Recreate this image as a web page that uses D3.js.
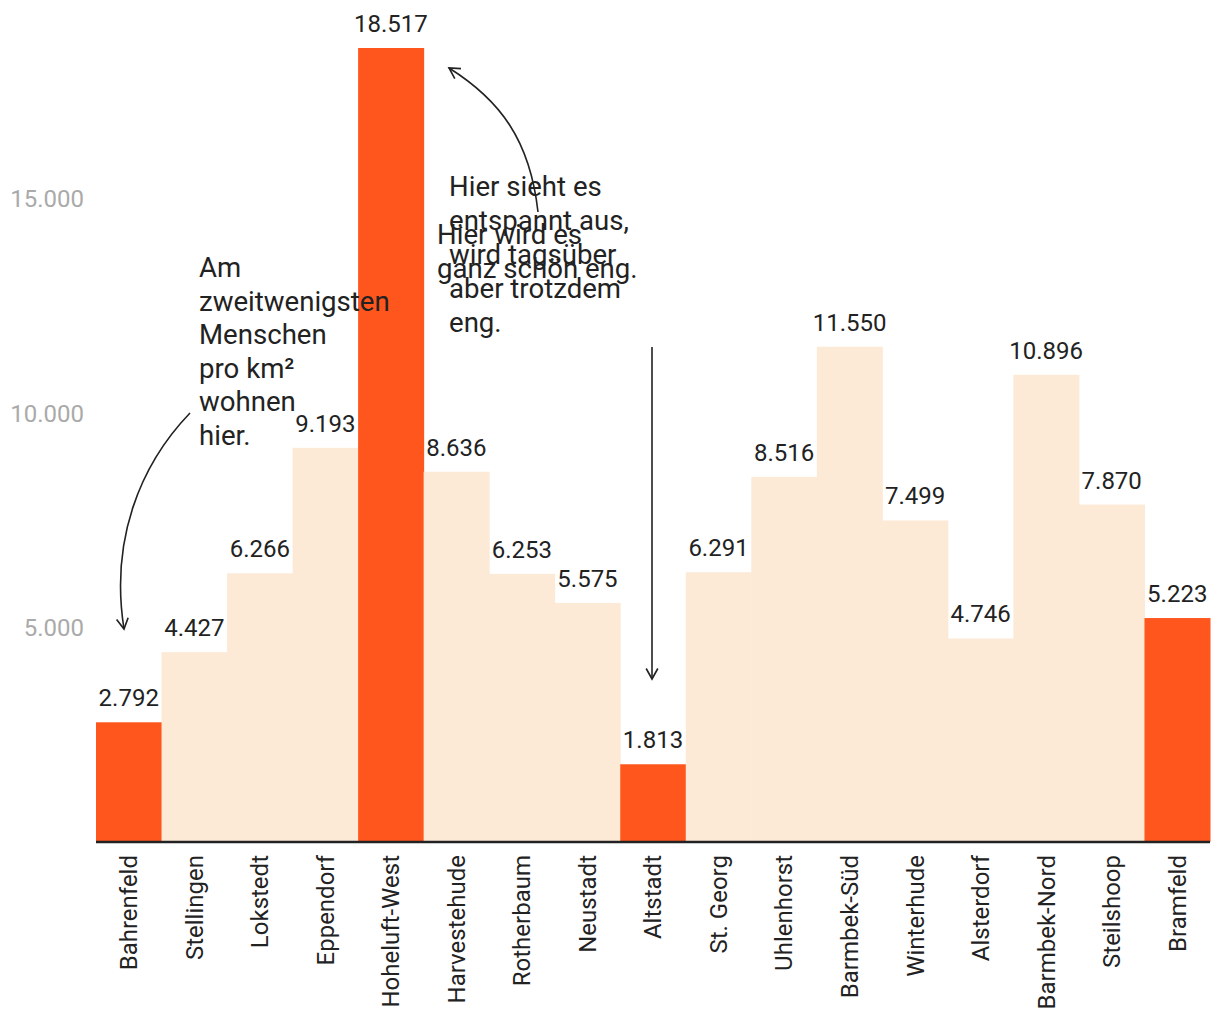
<!DOCTYPE html>
<html>
<head>
<meta charset="utf-8">
<script src="https://cdn.jsdelivr.net/npm/d3@7"></script>
<style>
  body { margin: 0; background: #fff; }
  svg { font-family: Roboto, "Noto Sans", sans-serif; }
</style>
</head>
<body>
<svg id="chart" width="1220" height="1020"></svg>
<script>
// Einwohner pro km² nach Stadtteil
const districts = ["Bahrenfeld", "Stellingen", "Lokstedt", "Eppendorf", "Hoheluft-West", "Harvestehude",
  "Rotherbaum", "Neustadt", "Altstadt", "St. Georg", "Uhlenhorst", "Barmbek-Süd", "Winterhude",
  "Alsterdorf", "Barmbek-Nord", "Steilshoop", "Bramfeld"];
const density = [2792, 4427, 6266, 9193, 18517, 8636, 6253, 5575, 1813, 6291, 8516, 11550, 7499,
  4746, 10896, 7870, 5223];
const highlighted = ["Bahrenfeld", "Hoheluft-West", "Altstadt", "Bramfeld"];
const yTicks = [5000, 10000, 15000];

const svg = d3.select("#chart");
const margin = { top: 48, right: 10, bottom: 178, left: 96 };
const width = 1220, height = 1020;

const x = d3.scaleBand()
  .domain(districts)
  .range([margin.left, width - margin.right])
  .padding(0);

const y = d3.scaleLinear()
  .domain([0, 18517])
  .range([height - margin.bottom, margin.top]);

const fmt = d3.formatLocale({ decimal: ",", thousands: ".", grouping: [3], currency: ["", "€"] }).format(",d");

const data = districts.map((d, i) => ({ name: d, value: density[i] }));

// y-Achse (nur Beschriftung)
svg.append("g")
  .selectAll("text")
  .data(yTicks)
  .enter().append("text")
  .attr("x", 84)
  .attr("y", d => y(d))
  .attr("dy", "0.35em")
  .attr("text-anchor", "end")
  .attr("fill", "#aaa")
  .style("font-size", "24px")
  .text(d => fmt(d));

// Balken
svg.append("g")
  .selectAll("rect")
  .data(data)
  .enter().append("rect")
  .attr("x", d => x(d.name))
  .attr("y", d => y(d.value))
  .attr("width", x.bandwidth() + 0.5)
  .attr("height", d => y(0) - y(d.value))
  .attr("fill", d => highlighted.includes(d.name) ? "#ff561e" : "#fcead7");

// Werte
svg.append("g")
  .selectAll("text")
  .data(data)
  .enter().append("text")
  .attr("x", d => x(d.name) + x.bandwidth() / 2)
  .attr("y", d => y(d.value) - 16)
  .attr("text-anchor", "middle")
  .attr("fill", "#222")
  .style("font-size", "24px")
  .text(d => fmt(d.value));

// x-Achse
const xAxis = svg.append("g")
  .attr("transform", `translate(0,${y(0)})`)
  .call(d3.axisBottom(x).tickSize(0).tickPadding(0));
xAxis.select(".domain").attr("stroke", "#222").attr("stroke-width", 2.5).attr("d", `M${margin.left},0H${width - margin.right}`);
xAxis.selectAll(".tick text")
  .attr("transform", "rotate(-90)")
  .attr("text-anchor", "end")
  .attr("x", -13)
  .attr("y", 0)
  .attr("dy", "0.35em")
  .attr("fill", "#222")
  .style("font-size", "24px")
  .style("font-family", "Roboto, sans-serif");

// Annotationen
svg.append("defs").append("marker")
  .attr("id", "arrow")
  .attr("viewBox", "0 0 12 12")
  .attr("refX", 10).attr("refY", 6)
  .attr("markerWidth", 14).attr("markerHeight", 14)
  .attr("markerUnits", "userSpaceOnUse")
  .attr("orient", "auto")
  .append("path")
  .attr("d", "M1,1 L10,6 L1,11")
  .attr("fill", "none")
  .attr("stroke", "#222")
  .attr("stroke-width", 1.4);

function note(lines, x0, y0, lh) {
  const t = svg.append("text")
    .attr("x", x0).attr("y", y0)
    .attr("fill", "#222")
    .style("font-size", "27.6px");
  lines.forEach((l, i) => {
    t.append("tspan").attr("x", x0).attr("y", y0 + i * lh).text(l);
  });
}

function arrow(d) {
  svg.append("path")
    .attr("d", d)
    .attr("fill", "none")
    .attr("stroke", "#222")
    .attr("stroke-width", 1.6)
    .attr("marker-end", "url(#arrow)");
}

note(["Am", "zweitwenigsten", "Menschen", "pro km²", "wohnen", "hier."], 199, 277, 33.5);
note(["Hier sieht es", "entspannt aus,", "wird tagsüber", "aber trotzdem", "eng."], 449, 196, 34);
note(["Hier wird es", "ganz schön eng."], 437, 244, 34);

arrow("M190,413 C140,465 110,540 124,629");
arrow("M538,212 C530,140 500,100 449,68");
arrow("M652,347 L652,679");
</script>
</body>
</html>
